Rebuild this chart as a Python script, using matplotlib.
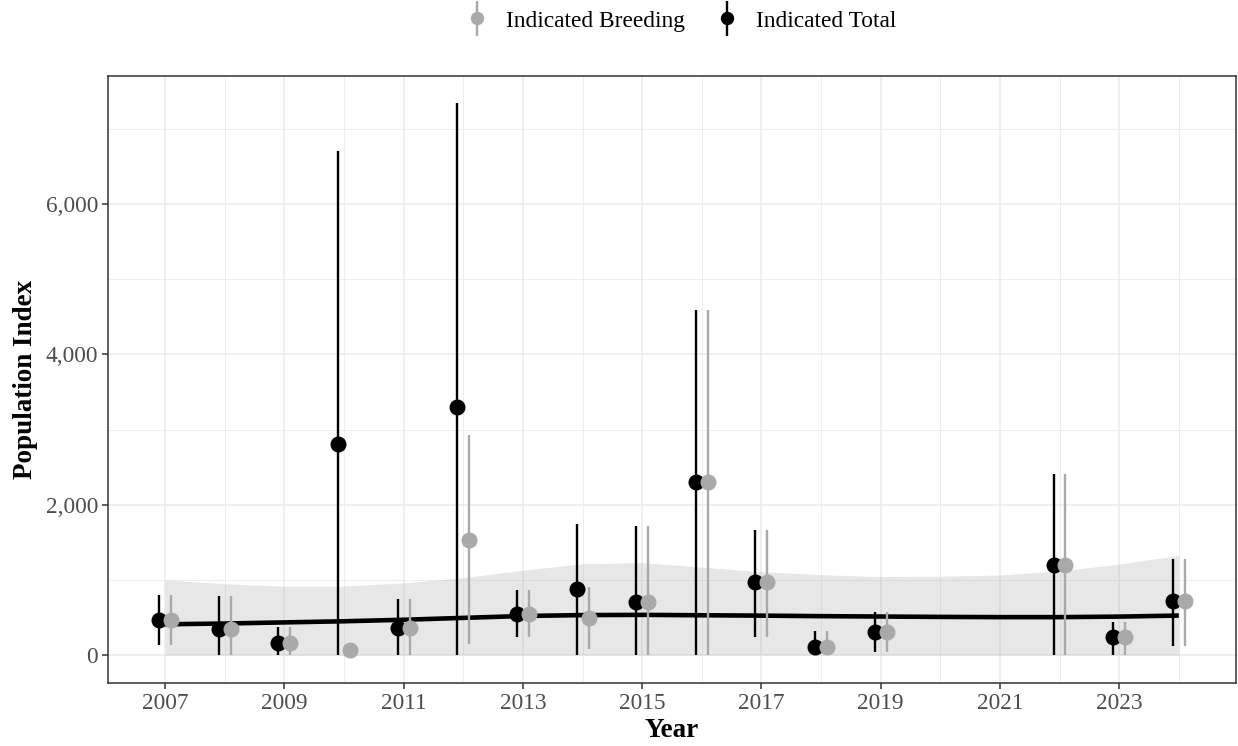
import numpy as np
import matplotlib.pyplot as plt
from matplotlib.container import ErrorbarContainer
from matplotlib.legend_handler import HandlerErrorbar
from matplotlib.ticker import FuncFormatter, MultipleLocator

plt.rcParams['font.family'] = ['Liberation Serif', 'DejaVu Serif']

# survey years with estimates
years = np.array([2007, 2008, 2009, 2010, 2011, 2012, 2013, 2014, 2015,
                  2016, 2017, 2018, 2019, 2022, 2023, 2024])

# indicated total index with 95% limits
total = [468, 348, 159, 2808, 358, 3298, 543, 874, 702, 2305, 967, 106, 305, 1205, 238, 715]
total_lo = [132, 0, 0, 0, 0, 0, 238, 0, 0, 0, 238, 0, 40, 0, 0, 123]
total_hi = [799, 781, 371, 6706, 746, 7342, 861, 1748, 1722, 4596, 1669, 318, 570, 2411, 437, 1285]

# indicated breeding index with 95% limits
breeding = [468, 348, 159, 66, 358, 1530, 543, 490, 702, 2305, 967, 106, 305, 1205, 238, 715]
breed_lo = [132, 0, 0, 66, 0, 146, 238, 80, 0, 0, 238, 0, 40, 0, 0, 123]
breed_hi = [799, 781, 371, 66, 746, 2927, 861, 900, 1722, 4596, 1669, 318, 570, 2411, 437, 1285]

# smoothed trend and its confidence band
trend_years = np.arange(2007, 2025)
trend = [410, 420, 435, 450, 470, 495, 520, 532, 535, 530, 525, 518, 513, 508, 505, 505, 512, 526]
trend_lo = [0] * 18
trend_hi = [1000, 950, 915, 920, 960, 1030, 1130, 1215, 1230, 1170, 1110, 1070, 1045, 1050, 1065, 1120, 1210, 1328]

GRAY = '#A9A9A9'
dodge = 0.1
FS = 16.8

fig = plt.figure(figsize=(12.38, 7.46), dpi=100)
ax = fig.add_axes([0.0872, 0.0849, 0.9112, 0.8136])

ax.fill_between(trend_years, trend_lo, trend_hi, color='#999999', alpha=0.23,
                linewidth=0, zorder=1)
ax.plot(trend_years, trend, color='black', linewidth=3.3, zorder=2,
        solid_capstyle='butt')

t = np.array(total)
b = np.array(breeding)
ax.errorbar(years - dodge, t, yerr=[t - np.array(total_lo), np.array(total_hi) - t],
            fmt='o', color='black', ms=10.5, elinewidth=1.7, capsize=0,
            zorder=3, label='Indicated Total')
ax.errorbar(years + dodge, b, yerr=[b - np.array(breed_lo), np.array(breed_hi) - b],
            fmt='o', color=GRAY, ms=10.5, elinewidth=1.7, capsize=0,
            zorder=4, label='Indicated Breeding')

ax.set_xlim(2006.04, 2024.96)
ax.set_ylim(-367, 7709)
ax.set_xticks(np.arange(2007, 2024, 2))
ax.set_xticks(np.arange(2008, 2025, 2), minor=True)
ax.yaxis.set_major_locator(MultipleLocator(2000))
ax.yaxis.set_minor_locator(MultipleLocator(1000))
ax.yaxis.set_major_formatter(FuncFormatter(lambda v, p: f'{int(v):,}'))

ax.grid(which='major', color='#EBEBEB', linewidth=1.1, zorder=0)
ax.grid(which='minor', color='#EBEBEB', linewidth=0.6, zorder=0)
ax.set_axisbelow(True)
for s in ax.spines.values():
    s.set_color('#333333')
    s.set_linewidth(1.1)
ax.tick_params(which='major', length=4.2, width=1.1, color='#333333',
               labelsize=FS, labelcolor='#4D4D4D')
ax.tick_params(axis='x', which='major', pad=3.5)
ax.tick_params(axis='y', which='major', pad=3)
ax.tick_params(which='minor', length=0)

ax.set_xlabel('Year', fontsize=19.5, fontweight='bold', va='center')
ax.set_ylabel('Population Index', fontsize=19.5, fontweight='bold', va='center')
ax.xaxis.set_label_coords(0.5, -0.0796)
ax.yaxis.set_label_coords(-0.0727, 0.5)

handles, labels = ax.get_legend_handles_labels()
fig.legend(handles[::-1], labels[::-1], loc='center', bbox_to_anchor=(0.550, 0.972),
           ncol=2, frameon=False, fontsize=FS, handletextpad=0.75,
           columnspacing=1.3, handlelength=1.0, markerscale=0.82,
           handler_map={ErrorbarContainer: HandlerErrorbar(yerr_size=0.75)})

fig.savefig('out.png', dpi=100)
